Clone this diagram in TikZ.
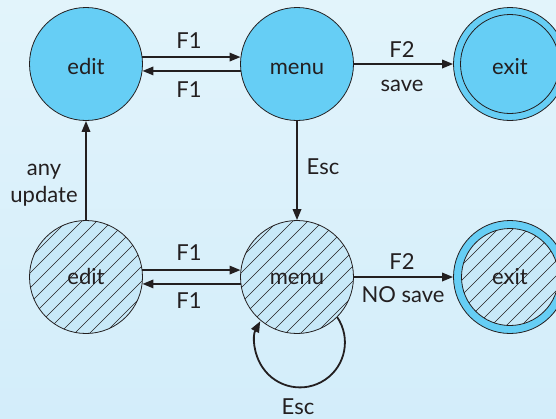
\documentclass[tikz,border=0pt]{standalone}
\usepackage{fontspec}
\setmainfont{Lato}
\usetikzlibrary{arrows.meta,calc}
\definecolor{bgtop}{HTML}{E2F4FB}
\definecolor{bgbot}{HTML}{D3EDFA}
\definecolor{stcyan}{HTML}{66CEF5}
\definecolor{stlight}{HTML}{C8E9F8}
\definecolor{ink}{HTML}{231F20}
\tikzset{
  stbase/.style={circle, draw=ink, line width=0.8pt, minimum size=113pt, inner sep=0pt,
    font=\fontsize{22}{26}\selectfont, text=ink, text depth=0pt},
  toprow/.style={text height=20pt},
  botrow/.style={text height=14pt},
  stfull/.style={stbase, fill=stcyan},
  sthatch/.style={stbase, fill=stlight,
    path picture={\foreach \k in {-9,...,9}{\draw[ink, line width=0.6pt]
      ($(path picture bounding box.center)+(\k*15-90,90)$) -- ++(180,-180);}}},
  arr/.style={draw=ink, line width=1.8pt, -{Triangle[length=11pt,width=8.5pt]}},
  lbl/.style={font=\fontsize{22}{27}\selectfont, text=ink, inner sep=0pt, align=center},
}
\begin{document}
\begin{tikzpicture}[x=1pt,y=-1pt]
\useasboundingbox (0,0) rectangle (556,418);
\shade[top color=bgtop, bottom color=bgbot] (0,0) rectangle (556,418);
% top row
\node[stfull, toprow] (editA) at (86,64) {edit};
\node[stfull, toprow] (menuA) at (297,64) {menu};
\node[stfull, toprow] (exitA) at (510,64) {exit};
\node[circle, draw=ink, line width=0.8pt, minimum size=99pt, inner sep=0pt] (exitAin) at (exitA.center) {};
% bottom row
\node[sthatch, botrow] (editB) at (86,277) {edit};
\node[sthatch, botrow] (menuB) at (297,277) {menu};
\node[stfull] (exitB) at (510,277) {};
\node[sthatch, botrow, minimum size=97pt] (exitBin) at (exitB.center) {exit};
% connectors top
\draw[arr] (editA.7) -- (menuA.173);
\draw[arr] (menuA.-173) -- (editA.-7);
\draw[arr] (menuA.east) -- (exitA.west);
\node[lbl] (f1a) at (189,40.5) {F1};
\node[lbl] (f1b) at (189,89.5) {F1};
\node[lbl] (f2a) at (402,50) {F2};
\node[lbl] (sv) at (402,85.5) {save};
% vertical
\draw[arr] (menuA.south) -- (menuB.north);
\node[lbl] (esc1) at (323,167) {Esc};
\draw[arr] (editB.north) -- (editA.south);
\node[lbl] (upd) at (44,185.5) {any\\update};
% bottom connectors
\draw[arr] (editB.7) -- (menuB.173);
\draw[arr] (menuB.-173) -- (editB.-7);
\draw[arr] (menuB.east) -- (exitB.west);
\node[lbl] (f1c) at (189,252.5) {F1};
\node[lbl] (f1d) at (189,300.5) {F1};
\node[lbl] (f2b) at (402,261.5) {F2};
\node[lbl] (nsv) at (403,295) {NO save};
% self loop
\draw[arr] (menuB.-45) arc[start angle=-34, end angle=208, radius=45];
\node[lbl] (esc2) at (298,407) {Esc};
\end{tikzpicture}
\end{document}
